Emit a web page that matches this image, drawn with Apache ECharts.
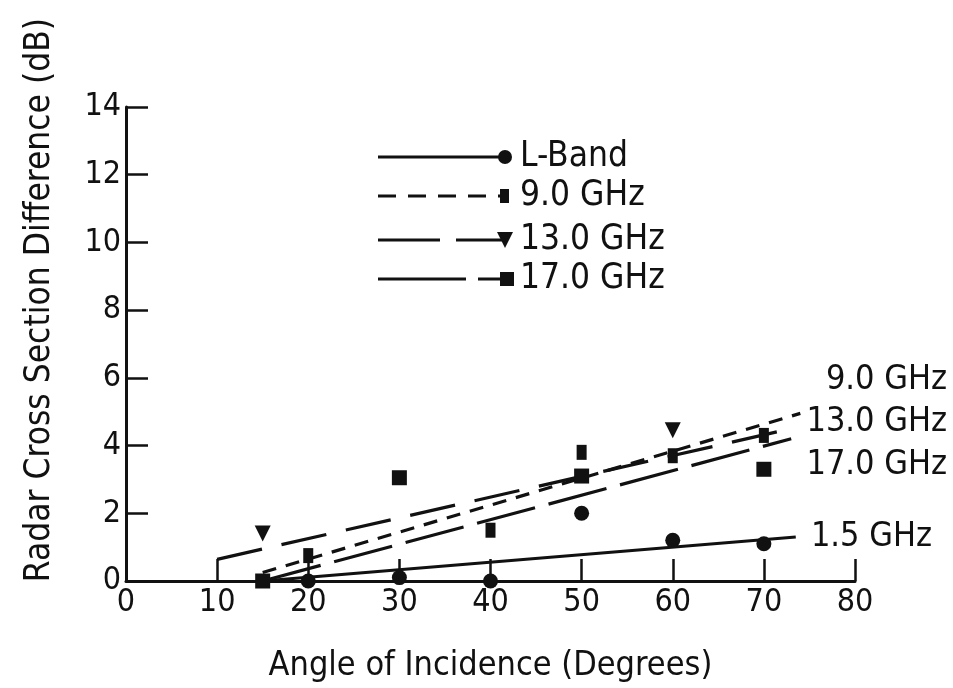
<!DOCTYPE html>
<html>
<head>
<meta charset="utf-8">
<script src="https://cdn.jsdelivr.net/npm/echarts@6/dist/echarts.min.js"></script>
<style>
  html, body { margin: 0; padding: 0; background: #fff; }
  #chart { width: 953px; height: 688px; }
</style>
</head>
<body>
<div id="chart"></div>
<script>
// Axis ticks
const xTicks = [0, 10, 20, 30, 40, 50, 60, 70, 80];
const yTicks = [0, 2, 4, 6, 8, 10, 12, 14];

// Measured points: [angle (deg), RCS difference (dB)]
const lbandPoints = [[20, 0.0], [30, 0.1], [40, 0.0], [50, 2.0], [60, 1.2], [70, 1.1]];
const ghz9Points  = [[20, 0.75], [40, 1.5], [50, 3.8], [60, 3.7], [70, 4.3]];
const ghz13Points = [[15, 1.4], [60, 4.45]];
const ghz17Points = [[15, 0.0], [30, 3.05], [50, 3.1], [70, 3.3]];

// Fitted trend lines: [start, end]
const lbandFit = [[15, 0.0], [73.5, 1.3]];
const ghz9Fit  = [[15, 0.25], [74, 4.95]];
const ghz13Fit = [[10, 0.64], [73, 4.5]];
const ghz17Fit = [[15, 0.0], [73, 4.2]];

// Right-hand curve labels
const curveLabels = ['9.0 GHz', '13.0 GHz', '17.0 GHz', '1.5 GHz'];
const legendNames = ['L-Band', '9.0 GHz', '13.0 GHz', '17.0 GHz'];

const FONT = '"DejaVu Sans Condensed", "Liberation Sans Narrow", sans-serif';
const INK = '#111';

const dashes = {
  g9: [14, 10],
  g13: [46, 20],
  g17: [60, 14]
};

function fitLine(data, dash) {
  return {
    type: 'line', data: data, symbol: 'none', silent: true, z: 3,
    lineStyle: { color: INK, width: 3.2, type: dash }
  };
}
function points(data, symbol, size, rotate) {
  return {
    type: 'scatter', data: data, symbol: symbol, symbolSize: size,
    symbolRotate: rotate || 0, z: 4,
    itemStyle: { color: INK, opacity: 1 }
  };
}

// Legend drawn as line samples with the end marker
const legendRows = [
  { y: 157, dash: null,     sym: 'circle' },
  { y: 196, dash: [18, 12], sym: 'rect' },
  { y: 240, dash: [62, 16], sym: 'tri' },
  { y: 279, dash: [88, 12], sym: 'square' }
];
const graphics = [];
legendRows.forEach((r, i) => {
  graphics.push({
    type: 'line', shape: { x1: 378, y1: r.y, x2: 505, y2: r.y },
    style: { stroke: INK, lineWidth: 3, lineDash: r.dash }
  });
  let mk;
  if (r.sym === 'circle') mk = { type: 'circle', shape: { cx: 505, cy: r.y, r: 7 } };
  else if (r.sym === 'rect') mk = { type: 'rect', shape: { x: 500, y: r.y - 7, width: 9, height: 14 } };
  else if (r.sym === 'tri') mk = { type: 'polygon', shape: { points: [[497, r.y - 8], [513, r.y - 8], [505, r.y + 8]] } };
  else mk = { type: 'rect', shape: { x: 500, y: r.y - 7, width: 14, height: 14 } };
  mk.style = { fill: INK };
  graphics.push(mk);
  graphics.push({
    type: 'text', x: 520, y: r.y,
    style: { text: legendNames[i], font: '35px ' + FONT, fill: INK, textVerticalAlign: 'middle' }
  });
});

// Curve labels on the right
const curveLabelY = [380, 422, 465, 537];
curveLabels.forEach((t, i) => {
  graphics.push({
    type: 'text', x: i === 3 ? 932 : 947, y: curveLabelY[i],
    style: { text: t, font: '34px ' + FONT, fill: INK, textAlign: 'right', textVerticalAlign: 'middle' }
  });
});

// Y axis title
graphics.push({
  type: 'text', x: 40, y: 300, rotation: Math.PI / 2,
  style: { text: 'Radar Cross Section Difference (dB)', font: '35px ' + FONT, fill: INK,
           textAlign: 'center', textVerticalAlign: 'middle' }
});

const chart = echarts.init(document.getElementById('chart'), null, { renderer: 'canvas' });
chart.setOption({
  backgroundColor: '#fff',
  animation: false,
  grid: { left: 126, right: 98, top: 107, bottom: 100 },
  xAxis: {
    type: 'value', min: xTicks[0], max: xTicks[xTicks.length - 1], interval: 10,
    name: 'Angle of Incidence (Degrees)', nameLocation: 'middle', nameGap: 68,
    nameTextStyle: { fontFamily: FONT, fontSize: 34, color: INK },
    axisLine: { lineStyle: { color: INK, width: 3 } },
    axisTick: { inside: true, length: 22, lineStyle: { color: INK, width: 2.5 } },
    axisLabel: { fontFamily: FONT, fontSize: 32, color: INK, margin: 6 },
    splitLine: { show: false }
  },
  yAxis: {
    type: 'value', min: yTicks[0], max: yTicks[yTicks.length - 1], interval: 2,
    axisLine: { lineStyle: { color: INK, width: 3 } },
    axisTick: { inside: true, length: 22, lineStyle: { color: INK, width: 2.5 } },
    axisLabel: { fontFamily: FONT, fontSize: 32, color: INK, margin: 5 },
    splitLine: { show: false }
  },
  series: [
    fitLine(lbandFit, 'solid'),
    fitLine(ghz9Fit, dashes.g9),
    fitLine(ghz13Fit, dashes.g13),
    fitLine(ghz17Fit, dashes.g17),
    points(lbandPoints, 'circle', 15),
    points(ghz9Points, 'rect', [10, 15]),
    points(ghz13Points, 'triangle', 16, 180),
    points(ghz17Points, 'rect', 15)
  ],
  graphic: graphics
});
</script>
</body>
</html>
